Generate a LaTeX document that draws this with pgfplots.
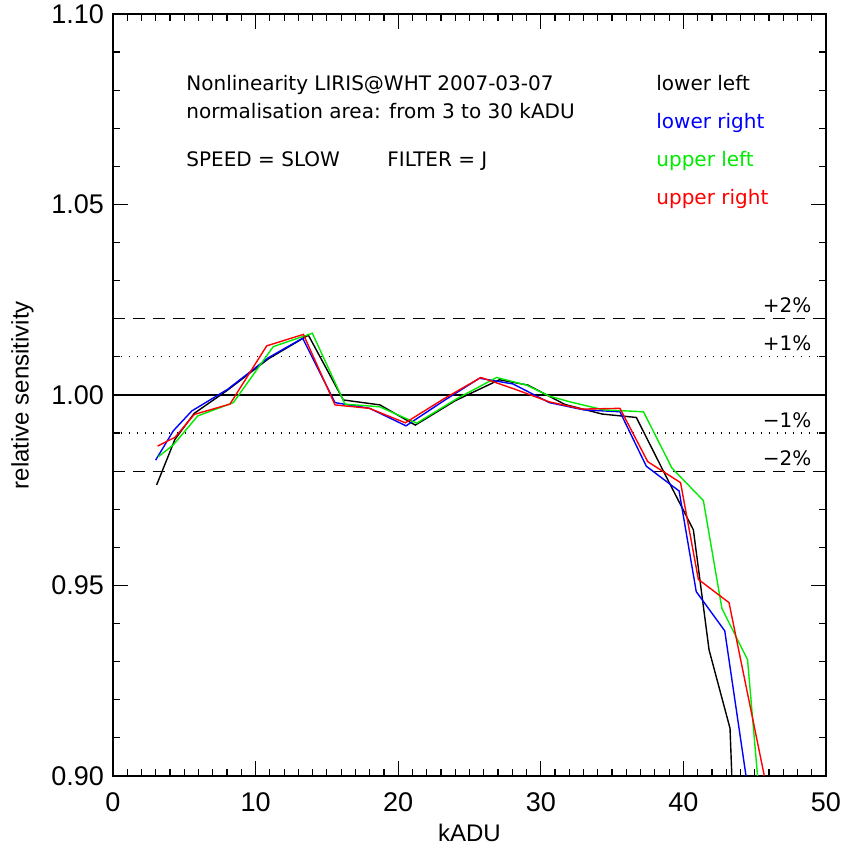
\documentclass[border=0pt]{standalone}
\usepackage{fontspec}
\setmainfont{Liberation Sans}
\newfontfamily\annot{DejaVu Sans}
\usepackage{pgfplots}
\pgfplotsset{compat=1.18}
\definecolor{idlblue}{RGB}{0,0,255}
\definecolor{idlgreen}{RGB}{0,235,0}
\definecolor{idlred}{RGB}{255,0,0}
\tikzset{annot/.style={font=\annot\fontsize{10}{10}\selectfont, inner sep=0pt}}
\begin{document}
\begin{tikzpicture}
\begin{axis}[
  scale only axis,
  width=356.5pt, height=381pt,
  xmin=0, xmax=50, ymin=0.90, ymax=1.10,
  xtick={0,10,20,30,40,50},
  minor x tick num=9,
  ytick={0.90,0.95,1.00,1.05,1.10},
  minor y tick num=4,
  tick align=inside,
  major tick length=7.5pt,
  minor tick length=3.5pt,
  tick style={black, line width=0.6pt},
  axis line style={line width=0.6pt},
  xtick pos=both, ytick pos=both,
  /pgf/number format/assume math mode=true,
  yticklabel style={/pgf/number format/fixed, /pgf/number format/fixed zerofill, /pgf/number format/precision=2, xshift=-1pt},
  ticklabel style={font=\fontsize{13.5}{14}\selectfont},
  xticklabel style={yshift=-5pt},
  xlabel={kADU},
  ylabel={relative sensitivity},
  label style={font=\fontsize{12}{13}\selectfont},
  xlabel style={yshift=1pt},
  ylabel style={yshift=2pt},
  clip=true,
  every axis plot/.append style={line width=0.7pt},
]
% reference lines
\addplot[black, line width=0.6pt, dash pattern=on 6pt off 4pt] coordinates {(0,1.02) (50,1.02)};
\addplot[black, line width=0.6pt, dash pattern=on 0.6pt off 3.4pt] coordinates {(0,1.01) (50,1.01)};
\addplot[black, line width=0.6pt] coordinates {(0,1.00) (50,1.00)};
\addplot[black, line width=0.6pt, dash pattern=on 0.6pt off 3.4pt] coordinates {(0,0.99) (50,0.99)};
\addplot[black, line width=0.6pt, dash pattern=on 6pt off 4pt] coordinates {(0,0.98) (50,0.98)};
% lower left (black)
\addplot[black] coordinates {
(3.06,0.9764) (4.35,0.9884) (5.70,0.9952) (7.97,1.0011) (10.9,1.0095) (13.7,1.0157)
(16.15,0.9987) (18.72,0.9974) (21.2,0.9921) (24.0,0.9985) (27.1,1.0040) (29.1,1.0026)
(31.7,0.9975) (34.3,0.9950) (36.7,0.9941) (38.6,0.9800) (40.7,0.9646) (41.8,0.9331)
(43.27,0.9125) (43.6,0.88)};
% lower right (blue)
\addplot[idlblue] coordinates {
(2.99,0.9829) (4.23,0.9906) (5.52,0.9958) (8.04,1.0015) (10.9,1.0098) (13.3,1.0149)
(15.57,0.9980) (18.0,0.9965) (20.55,0.9919) (23.2,0.9985) (25.7,1.0044) (28.05,1.0029)
(30.6,0.9980) (33.0,0.9961) (35.55,0.9956) (37.4,0.9813) (39.7,0.9748) (40.9,0.9484)
(42.9,0.9381) (44.4,0.8998) (44.5,0.88)};
% upper left (green)
\addplot[idlgreen] coordinates {
(3.18,0.9838) (4.23,0.9869) (5.94,0.9945) (8.44,0.9980) (11.24,1.0127) (13.98,1.0162)
(16.27,0.9976) (18.7,0.9969) (21.3,0.9926) (24.1,0.9990) (26.9,1.0046) (29.0,1.0026)
(30.6,0.9997) (32.05,0.9982) (34.4,0.9961) (37.2,0.9956) (39.2,0.9808) (41.4,0.9723)
(42.7,0.9440) (44.5,0.9305) (45.2,0.9000) (45.3,0.88)};
% upper right (red)
\addplot[idlred] coordinates {
(3.13,0.9866) (4.35,0.9889) (5.70,0.9949) (8.2,0.9976) (10.78,1.0129) (13.35,1.0159)
(15.57,0.9974) (17.97,0.9965) (20.5,0.9927) (23.2,0.9990) (25.8,1.0046) (28.2,1.0015)
(30.6,0.9982) (32.9,0.9963) (35.55,0.9965) (37.5,0.9825) (39.8,0.9770) (41.05,0.9516)
(43.2,0.9455) (45.65,0.9005) (45.8,0.88)};
% annotations
\node[annot, anchor=base west] at (axis cs:5.12,1.0799) {Nonlinearity LIRIS@WHT 2007-03-07};
\node[annot, anchor=base west] at (axis cs:5.12,1.0725) {normalisation area: from 3 to 30 kADU};
\node[annot, anchor=base west] at (axis cs:5.12,1.0599) {SPEED = SLOW};
\node[annot, anchor=base west] at (axis cs:19.22,1.0599) {FILTER = J};
\node[annot, anchor=base west] at (axis cs:38.08,1.0799) {lower left};
\node[annot, anchor=base west, text=idlblue] at (axis cs:38.08,1.0699) {lower right};
\node[annot, anchor=base west, text=idlgreen] at (axis cs:38.08,1.0599) {upper left};
\node[annot, anchor=base west, text=idlred] at (axis cs:38.08,1.0499) {upper right};
\node[annot, anchor=base east] at (axis cs:49.0,1.0216) {+2\%};
\node[annot, anchor=base east] at (axis cs:49.0,1.0116) {+1\%};
\node[annot, anchor=base east] at (axis cs:49.0,0.9914) {−1\%};
\node[annot, anchor=base east] at (axis cs:49.0,0.9814) {−2\%};
\end{axis}
\pgfresetboundingbox
\path ([shift={(-56.5pt,-36pt)}]current axis.south west) rectangle ([shift={(8.5pt,7pt)}]current axis.north east);
\end{tikzpicture}
\end{document}
